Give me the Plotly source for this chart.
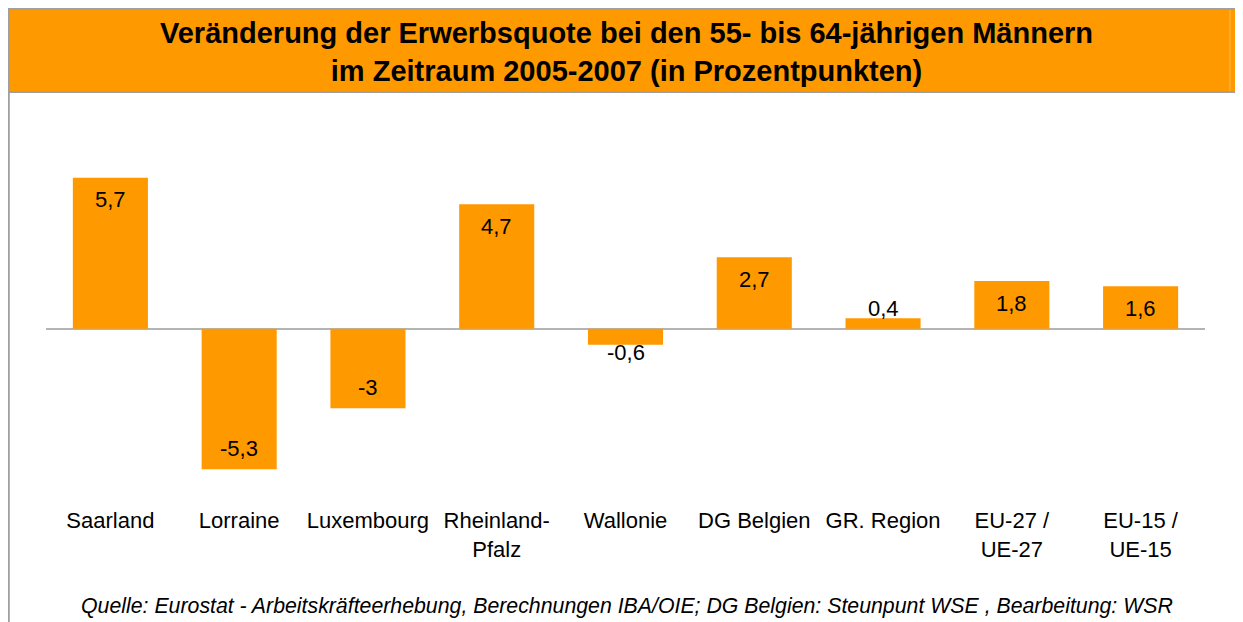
import plotly.graph_objects as go

categories = ["Saarland", "Lorraine", "Luxembourg", "Rheinland-<br>Pfalz", "Wallonie",
              "DG Belgien", "GR. Region", "EU-27 /<br>UE-27", "EU-15 /<br>UE-15"]
values = [5.7, -5.3, -3, 4.7, -0.6, 2.7, 0.4, 1.8, 1.6]
labels = [f"{v:g}".replace(".", ",") for v in values]

# the page body adds an 8px margin; work in page pixels and convert
OFF = 8
W, H = 1243 - OFF, 622 - OFF
PL, PR, PT, PB = 46, 1205, 130, 501  # plot area in page pixels
L, R, T, B = PL - OFF, W - (PR - OFF), PT - OFF, H - (PB - OFF)
PW, PH = W - L - R, H - T - B

def px(x):
    return (x - OFF - L) / PW

def py(y):
    return 1 - (y - OFF - T) / PH

FONT = "Liberation Sans, Arial, sans-serif"
ORANGE = "#FF9900"

fig = go.Figure(go.Bar(
    x=list(range(len(categories))), y=values, cliponaxis=False,
    marker=dict(color=ORANGE, line=dict(width=0)),
))

shapes = [
    dict(type="rect", xref="paper", yref="paper", x0=px(8), x1=px(1260), y0=py(92), y1=py(8),
         fillcolor=ORANGE, line=dict(width=0), layer="below"),
    dict(type="line", xref="paper", yref="paper", x0=px(8), x1=px(1260), y0=py(8.8), y1=py(8.8),
         line=dict(color="#a0a0a0", width=2)),
    dict(type="line", xref="paper", yref="paper", x0=px(8), x1=px(1260), y0=py(92), y1=py(92),
         line=dict(color="#a0a0a0", width=2)),
    dict(type="line", xref="paper", yref="paper", x0=px(8.8), x1=px(8.8), y0=py(8), y1=py(640),
         line=dict(color="#a0a0a0", width=2)),
    dict(type="line", xref="paper", yref="paper", x0=px(1230), x1=px(1230), y0=py(10), y1=py(91),
         line=dict(color="#ffb84d", width=1)),
]

annotations = [
    dict(text="<b>Veränderung der Erwerbsquote bei den 55- bis 64-jährigen Männern<br>im Zeitraum 2005-2007 (in Prozentpunkten)</b>",
         xref="paper", yref="paper", x=px(626), y=py(52), xanchor="center", yanchor="middle",
         showarrow=False, font=dict(family=FONT, size=29, color="black"), align="center"),
    dict(text="<i>Quelle: Eurostat - Arbeitskräfteerhebung, Berechnungen IBA/OIE; DG Belgien: Steunpunt WSE , Bearbeitung: WSR</i>",
         xref="paper", yref="paper", x=px(627), y=py(606), xanchor="center", yanchor="middle",
         showarrow=False, font=dict(family=FONT, size=21.3, color="black")),
]

# value labels: inside near the end for large bars, just outside for small ones
for i, (v, lab) in enumerate(zip(values, labels)):
    if abs(v) >= 1:
        shift = -22 if v > 0 else 21
    else:
        shift = 10 if v > 0 else -8
    annotations.append(dict(x=i, y=v, xref="x", yref="y", text=lab, showarrow=False,
                            xanchor="center", yanchor="middle", yshift=shift,
                            font=dict(family=FONT, size=22, color="black")))

fig.update_layout(
    width=W, height=H, margin=dict(l=L, r=R, t=T, b=B, autoexpand=False),
    paper_bgcolor="white", plot_bgcolor="white", showlegend=False,
    bargap=0.417, shapes=shapes, annotations=annotations,
    font=dict(family=FONT, size=22, color="black"),
    xaxis=dict(tickmode="array", tickvals=list(range(len(categories))), ticktext=categories,
               range=[-0.5, len(categories) - 0.5], showgrid=False, showline=False, ticks="",
               zeroline=False, ticklabelstandoff=4,
               tickfont=dict(family=FONT, size=22, color="black")),
    yaxis=dict(range=[-6.5, 7.5], showgrid=False, showticklabels=False, ticks="",
               zeroline=True, zerolinecolor="#b4b4b4", zerolinewidth=2, showline=False),
)

fig.write_html("out.html")
